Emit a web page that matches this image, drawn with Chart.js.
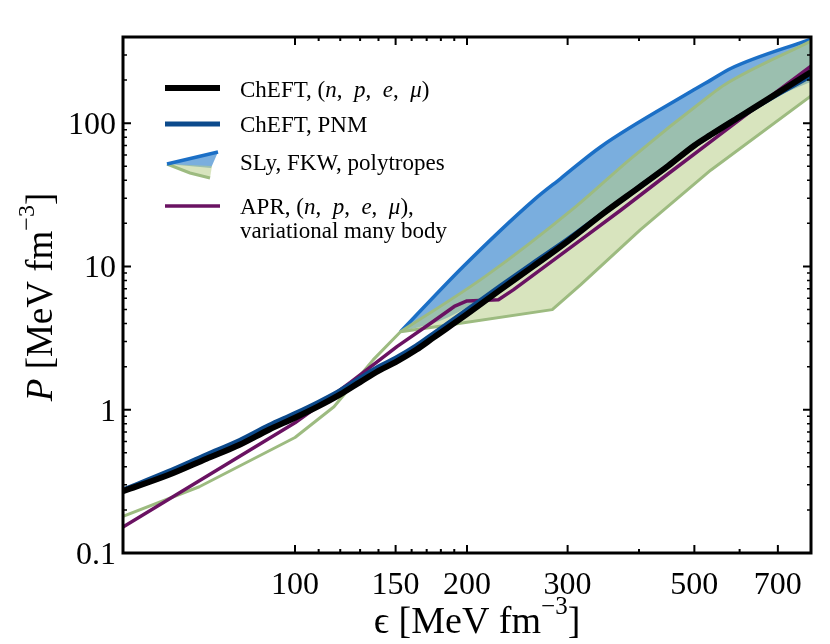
<!DOCTYPE html>
<html><head><meta charset="utf-8">
<script src="https://cdn.jsdelivr.net/npm/chart.js@4.4.1/dist/chart.umd.min.js"></script>
<style>html,body{margin:0;padding:0;background:#fff}</style>
</head><body>
<canvas id="c" width="830" height="644"></canvas>
<script>
// ---- data (energy density e [MeV fm^-3], pressure P [MeV fm^-3]) ----
const cheftE = [50,60,70,80,90,100,110,120,130,140,150,163,175,200,229,260,300,347,400,450,500,534,600,700,800];
const cheftP = [0.27,0.35,0.455,0.57,0.725,0.88,1.06,1.28,1.56,1.87,2.15,2.62,3.2,4.65,6.9,9.9,15.0,23.6,35.7,50.4,70,83,111,163,228];
const pnmE = [50,60,70,80,90,100,110,120,130,140,150,163,175,200,229,260,300,347,400,450,500,534,600,700,800];
const pnmP = [0.275,0.37,0.485,0.61,0.775,0.94,1.13,1.36,1.66,1.99,2.29,2.79,3.41,4.96,7.3,10.4,15.4,23.6,35.7,50.4,70,83,111,160,215];
const aprE = [50,100,125,151,173,190,200,227,241,316,372,450,534,650,800];
const aprP = [0.152,0.81,1.55,2.77,4.03,5.26,5.75,5.86,6.87,15.3,24.8,44.4,74.4,135,250];
const greenUpE = [153,215,310,387,534,564,800];
const greenUpP = [3.5,8.5,26.2,56.7,158,185,375];
const greenLoE = [50,68,100,117,137,153,187,282,316,402,534,800];
const greenLoP = [0.18,0.29,0.64,1.05,2.23,3.5,3.92,5.0,7.45,18,47,155];
const blueUpE = [153,197,262,292,343,494,534,580,800];
const blueUpP = [3.5,10,29.2,41.3,68.6,167,200,242,387];
const blueLoE = [153,180,200,229,260,300,347,400,450,500,534,600,700,800];
const blueLoP = [3.5,4.2,5.2,7.5,10.6,15.8,24.5,37,52,72,85,110,155,195];

const xMajorTicks = [100,150,200,300,500,700];
const xMajorLabels = ['100','150','200','300','500','700'];
const xMinorTicks = [110,120,130,140,160,170,180,190,400,600];
const yMajorTicks = [0.1,1,10,100];
const yMajorLabels = ['0.1','1','10','100'];
const yMinorTicks = [0.2,0.3,0.4,0.5,0.6,0.7,0.8,0.9,2,3,4,5,6,7,8,9,20,30,40,50,60,70,80,90,200,300,400];

const pts = (xs, ys) => xs.map((x, i) => ({x: x, y: ys[i]}));

const SERIF = '"Liberation Serif","DejaVu Serif",serif';
const C_BLACK = '#000000', C_PNM = '#0c4a8c', C_APR = '#6a1262';
const C_BLUE_EDGE = '#1b6fc6', C_BLUE_FILL = '#7aaede';
const C_GREEN_EDGE = '#9dbb80', C_GREEN_FILL = 'rgba(183,205,135,0.54)';

function drawRich(ctx, parts, x, y, size) {
  let cx = x;
  for (const p of parts) {
    ctx.font = (p.it ? 'italic ' : '') + size + 'px ' + SERIF;
    ctx.fillText(p.t, cx, y);
    cx += ctx.measureText(p.t).width;
  }
}

const decor = {
  id: 'decor',
  afterDraw(chart) {
    const ctx = chart.ctx, a = chart.chartArea;
    const xs = chart.scales.x, ys = chart.scales.y;
    ctx.save();
    ctx.strokeStyle = '#000'; ctx.fillStyle = '#000';
    ctx.lineWidth = 2;
    const tx = (v, len) => { const p = xs.getPixelForValue(v);
      ctx.beginPath(); ctx.moveTo(p, a.bottom); ctx.lineTo(p, a.bottom - len);
      ctx.moveTo(p, a.top); ctx.lineTo(p, a.top + len); ctx.stroke(); };
    const ty = (v, len) => { const p = ys.getPixelForValue(v);
      ctx.beginPath(); ctx.moveTo(a.left, p); ctx.lineTo(a.left + len, p);
      ctx.moveTo(a.right, p); ctx.lineTo(a.right - len, p); ctx.stroke(); };
    xMajorTicks.forEach(v => tx(v, 8));
    xMinorTicks.forEach(v => tx(v, 4));
    yMajorTicks.forEach(v => ty(v, 8));
    ctx.lineWidth = 1.5;
    yMinorTicks.forEach(v => ty(v, 4));
    ctx.lineWidth = 3;
    ctx.strokeRect(a.left, a.top, a.right - a.left, a.bottom - a.top);
    // tick labels
    ctx.font = '32px ' + SERIF;
    ctx.textAlign = 'center'; ctx.textBaseline = 'alphabetic';
    xMajorTicks.forEach((v, i) => ctx.fillText(xMajorLabels[i], xs.getPixelForValue(v), 594));
    ctx.textAlign = 'right';
    yMajorTicks.forEach((v, i) => ctx.fillText(yMajorLabels[i], a.left - 7, ys.getPixelForValue(v) + 11));
    // x title
    ctx.textAlign = 'left';
    const F = 38, FS = 25;
    ctx.font = F + 'px ' + SERIF;
    const w1 = ctx.measureText('\u03F5 [MeV fm').width;
    ctx.font = FS + 'px ' + SERIF;
    const w2 = ctx.measureText('\u22123').width;
    ctx.font = F + 'px ' + SERIF;
    const w3 = ctx.measureText(']').width;
    let sx = 477 - (w1 + w2 + w3) / 2;
    ctx.fillText('\u03F5 [MeV fm', sx, 633);
    ctx.font = FS + 'px ' + SERIF; ctx.fillText('\u22123', sx + w1, 614);
    ctx.font = F + 'px ' + SERIF; ctx.fillText(']', sx + w1 + w2, 633);
    // y title
    ctx.save();
    ctx.translate(52, 297); ctx.rotate(-Math.PI / 2);
    const G = 37, GS = 24;
    ctx.font = 'italic ' + G + 'px ' + SERIF;
    const wP = ctx.measureText('P').width;
    ctx.font = G + 'px ' + SERIF;
    const wa = ctx.measureText(' [MeV fm').width;
    ctx.font = GS + 'px ' + SERIF;
    const wb = ctx.measureText('\u22123').width;
    ctx.font = G + 'px ' + SERIF;
    const wc = ctx.measureText(']').width;
    let yx = -(wP + wa + wb + wc) / 2;
    ctx.font = 'italic ' + G + 'px ' + SERIF; ctx.fillText('P', yx, 0);
    ctx.font = G + 'px ' + SERIF; ctx.fillText(' [MeV fm', yx + wP, 0);
    ctx.font = GS + 'px ' + SERIF; ctx.fillText('\u22123', yx + wP + wa, -18);
    ctx.font = G + 'px ' + SERIF; ctx.fillText(']', yx + wP + wa + wb, 0);
    ctx.restore();
    // legend
    ctx.lineCap = 'butt';
    ctx.strokeStyle = C_BLACK; ctx.lineWidth = 6;
    ctx.beginPath(); ctx.moveTo(165, 88); ctx.lineTo(220, 88); ctx.stroke();
    ctx.strokeStyle = C_PNM; ctx.lineWidth = 5;
    ctx.beginPath(); ctx.moveTo(165, 124); ctx.lineTo(220, 124); ctx.stroke();
    ctx.fillStyle = C_BLUE_FILL;
    ctx.beginPath(); ctx.moveTo(167, 164); ctx.lineTo(218, 152); ctx.lineTo(211, 168); ctx.closePath(); ctx.fill();
    ctx.fillStyle = C_GREEN_FILL;
    ctx.beginPath(); ctx.moveTo(167, 164); ctx.lineTo(212, 166); ctx.lineTo(210, 178); ctx.lineTo(190, 173); ctx.closePath(); ctx.fill();
    ctx.strokeStyle = C_GREEN_EDGE; ctx.lineWidth = 3;
    ctx.beginPath(); ctx.moveTo(167, 164); ctx.lineTo(190, 173); ctx.lineTo(210, 178); ctx.stroke();
    ctx.strokeStyle = C_BLUE_EDGE; ctx.lineWidth = 3.5;
    ctx.beginPath(); ctx.moveTo(167, 164); ctx.lineTo(218, 152); ctx.stroke();
    ctx.strokeStyle = C_APR; ctx.lineWidth = 3.5;
    ctx.beginPath(); ctx.moveTo(165, 206); ctx.lineTo(220, 206); ctx.stroke();
    ctx.fillStyle = '#000'; ctx.textAlign = 'left';
    const S = 23;
    drawRich(ctx, [{t:'ChEFT, ('},{t:'n',it:1},{t:',  '},{t:'p',it:1},{t:',  '},{t:'e',it:1},{t:',  '},{t:'\u03BC',it:1},{t:')'}], 240, 97, S);
    drawRich(ctx, [{t:'ChEFT, PNM'}], 240, 132, S);
    drawRich(ctx, [{t:'SLy, FKW, polytropes'}], 240, 170, S);
    drawRich(ctx, [{t:'APR, ('},{t:'n',it:1},{t:',  '},{t:'p',it:1},{t:',  '},{t:'e',it:1},{t:',  '},{t:'\u03BC',it:1},{t:'),'}], 240, 214, S);
    drawRich(ctx, [{t:'variational many body'}], 240, 238, S);
    ctx.restore();
  }
};

const line = (data, color, width, order, extra) => Object.assign({
  data: data, borderColor: color, borderWidth: width, pointRadius: 0,
  showLine: true, fill: false, order: order, tension: 0, borderJoinStyle: 'round'
}, extra || {});
const smooth = {cubicInterpolationMode: 'monotone'};

new Chart(document.getElementById('c'), {
  type: 'scatter',
  data: {
    datasets: [
      line(pts(cheftE, cheftP), C_BLACK, 6, 0, smooth),
      line(pts(pnmE, pnmP), C_PNM, 5, 1, smooth),
      line(pts(aprE, aprP), C_APR, 3.5, 2),
      line(pts(greenUpE, greenUpP), C_GREEN_EDGE, 3, 3, Object.assign({fill: {target: 4}, backgroundColor: C_GREEN_FILL}, smooth)),
      line(pts(greenLoE, greenLoP), C_GREEN_EDGE, 3, 4),
      line(pts(blueUpE, blueUpP), C_BLUE_EDGE, 3.5, 5, Object.assign({fill: {target: 6}, backgroundColor: C_BLUE_FILL}, smooth)),
      line(pts(blueLoE, blueLoP), 'rgba(0,0,0,0)', 0, 6, smooth)
    ]
  },
  options: {
    responsive: false, animation: false, devicePixelRatio: 1,
    layout: {padding: {left: 123, right: 19, top: 37, bottom: 91}},
    plugins: {legend: {display: false}, tooltip: {enabled: false}, filler: {drawTime: 'beforeDatasetsDraw'}},
    scales: {
      x: {type: 'logarithmic', min: 50, max: 800, display: false},
      y: {type: 'logarithmic', min: 0.1, max: 400, display: false}
    }
  },
  plugins: [decor]
});
</script>
</body></html>
